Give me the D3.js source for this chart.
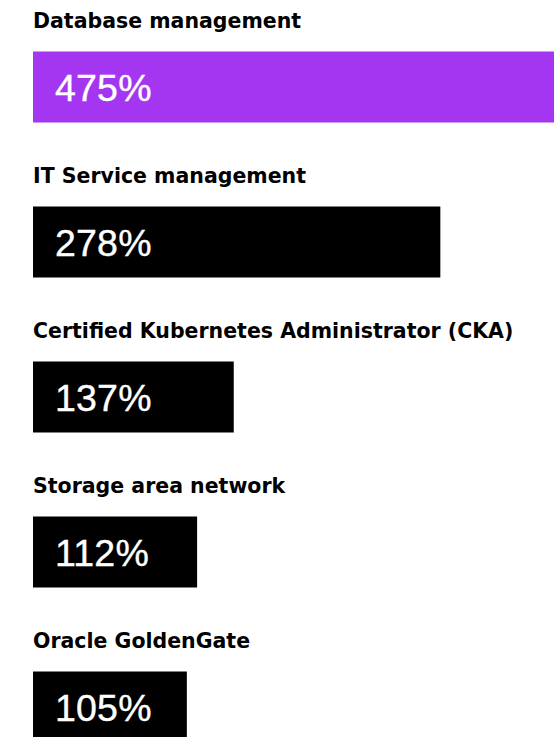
<!DOCTYPE html>
<html>
<head>
<meta charset="utf-8">
<script src="https://cdn.jsdelivr.net/npm/d3@7"></script>
<style>
  html, body { margin: 0; padding: 0; background: #fff; overflow: hidden; }
  svg { display: block; }
</style>
</head>
<body>
<div id="chart"></div>
<script>
const categories = [
  "Database management",
  "IT Service management",
  "Certified Kubernetes Administrator (CKA)",
  "Storage area network",
  "Oracle GoldenGate"
];
const values = [475, 278, 137, 112, 105];
const valueLabels = ["475%", "278%", "137%", "112%", "105%"];
const highlight = [true, false, false, false, false];

const W = 554, H = 737;
const left = 33;

const svg = d3.select("#chart").append("svg")
  .attr("width", W).attr("height", H);

const x = d3.scaleLinear().domain([0, 475]).range([0, 696]);
const y = d3.scaleBand()
  .domain(categories)
  .range([51.5, 51.5 + 155 * 5 - 84])
  .paddingInner(84 / 155)
  .paddingOuter(0);

const g = svg.selectAll("g.row")
  .data(categories.map((c, i) => ({ c, v: values[i], lab: valueLabels[i], hi: highlight[i] })))
  .join("g").attr("class", "row");

g.append("text")
  .attr("x", left)
  .attr("y", d => y(d.c) - 23.5)
  .attr("font-family", "'DejaVu Sans', sans-serif")
  .attr("font-weight", 700)
  .attr("font-size", 20.5)
  .attr("fill", "#000")
  .text(d => d.c);

g.append("rect")
  .attr("x", left)
  .attr("y", d => y(d.c))
  .attr("width", d => x(d.v))
  .attr("height", y.bandwidth())
  .attr("fill", d => d.hi ? "#a435f0" : "#000");

g.append("text")
  .attr("x", left + 22)
  .attr("y", d => y(d.c) + 49)
  .attr("font-family", "'Liberation Sans', Arial, sans-serif")
  .attr("font-weight", 400)
  .attr("font-size", 37.5)
  .attr("letter-spacing", 0.2)
  .attr("fill", "#fff")
  .attr("stroke", "#fff")
  .attr("stroke-width", 0.4)
  .text(d => d.lab);
</script>
</body>
</html>
